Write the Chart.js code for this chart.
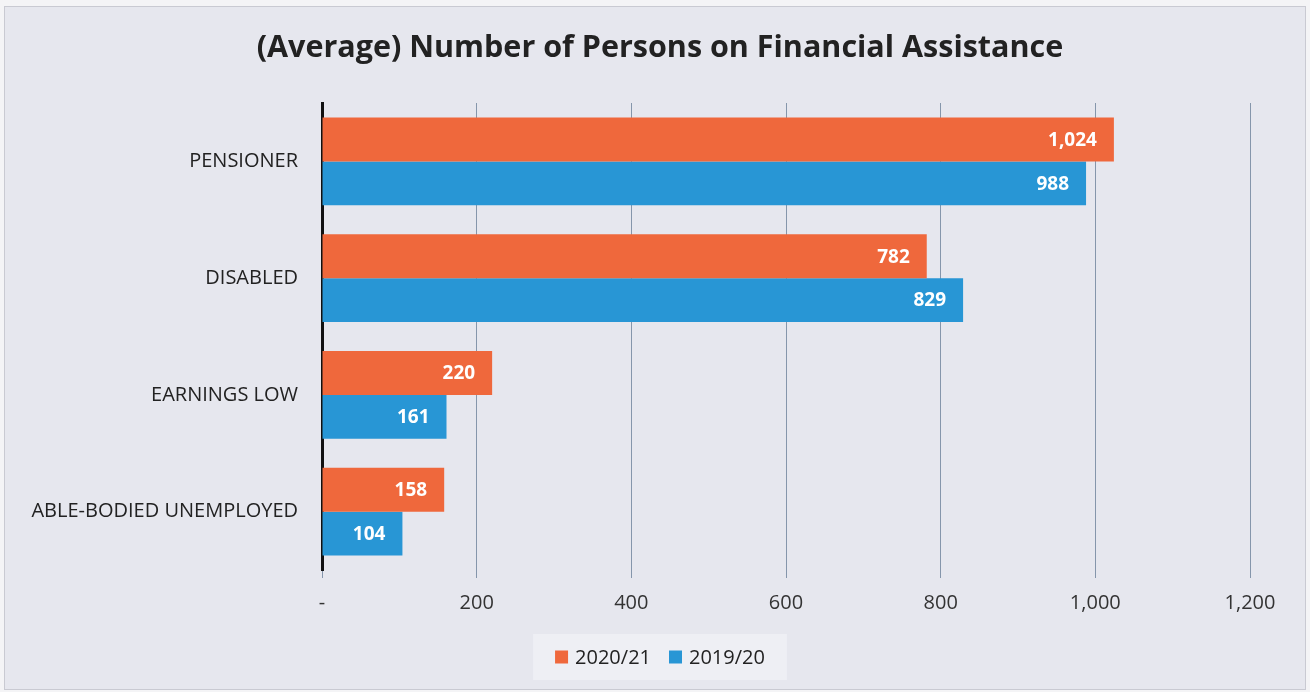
<!DOCTYPE html>
<html>
<head>
<meta charset="utf-8">
<script src="https://cdn.jsdelivr.net/npm/chart.js@4"></script>
<style>
  html, body { margin: 0; padding: 0; }
  body { background: #f4f4f6; width: 1310px; height: 692px; overflow: hidden; }
  .frame {
    position: absolute; left: 4px; top: 6px; width: 1302px; height: 684px;
    background: #e6e7ee; border: 1px solid #c9cad2; box-sizing: border-box;
  }
  canvas { position: absolute; left: 0; top: 0; }
</style>
</head>
<body>
<div class="frame"></div>
<canvas id="miGrafico" width="1310" height="692"></canvas>
<script>
const categorias = ['PENSIONER', 'DISABLED', 'EARNINGS LOW', 'ABLE-BODIED UNEMPLOYED'];
const serie2021 = [1024, 782, 220, 158];
const serie1920 = [988, 829, 161, 104];
const ticksX = [0, 200, 400, 600, 800, 1000, 1200];

const titulo = '(Average) Number of Persons on Financial Assistance';
const fuente = "'Open Sans', 'Noto Sans', sans-serif";
const centroX = 660;

// Etiquetas de valor dentro de las barras
const etiquetas = {
    id: 'etiquetas',
    afterDatasetsDraw(chart) {
        const ctx = chart.ctx;
        ctx.save();
        ctx.font = "bold 19px " + fuente;
        ctx.fillStyle = '#ffffff';
        ctx.textAlign = 'right';
        ctx.textBaseline = 'middle';
        chart.data.datasets.forEach((ds, i) => {
            chart.getDatasetMeta(i).data.forEach((bar, j) => {
                ctx.fillText(ds.data[j].toLocaleString('en-US'), bar.x - 17, bar.y + 1);
            });
        });
        ctx.restore();
    }
};

// Título y leyenda centrados sobre la página
const tituloLeyenda = {
    id: 'tituloLeyenda',
    afterDraw(chart) {
        const ctx = chart.ctx;
        ctx.save();
        ctx.fillStyle = '#222';
        ctx.font = "bold 30.5px " + fuente;
        ctx.textAlign = 'center';
        ctx.textBaseline = 'middle';
        ctx.fillText(titulo, centroX, 48);

        // leyenda
        ctx.font = "20px " + fuente;
        const items = chart.data.datasets.map(ds => ({
            texto: ds.label, color: ds.backgroundColor, w: ctx.measureText(ds.label).width
        }));
        const cuadro = 13, hueco = 7, sep = 18;
        let total = 0;
        items.forEach((it, k) => { total += cuadro + hueco + it.w + (k ? sep : 0); });
        const y = 657;
        ctx.fillStyle = '#eeeff4';
        ctx.fillRect(centroX - total / 2 - 22, y - 23, total + 44, 46);
        let x = centroX - total / 2;
        ctx.textAlign = 'left';
        items.forEach(it => {
            ctx.fillStyle = it.color;
            ctx.fillRect(x, y - cuadro / 2, cuadro, cuadro);
            ctx.fillStyle = '#222';
            ctx.fillText(it.texto, x + cuadro + hueco, y + 1);
            x += cuadro + hueco + it.w + sep;
        });
        ctx.restore();
    }
};

new Chart(document.getElementById('miGrafico'), {
    type: 'bar',
    data: {
        labels: categorias,
        datasets: [{
            label: '2020/21',
            data: serie2021,
            backgroundColor: '#ef683c'
        }, {
            label: '2019/20',
            data: serie1920,
            backgroundColor: '#2896d5'
        }]
    },
    options: {
        indexAxis: 'y',
        responsive: false,
        animation: false,
        layout: { padding: { left: 0, right: 60, top: 103, bottom: 72 } },
        datasets: {
            bar: { categoryPercentage: 0.75, barPercentage: 1.0 }
        },
        scales: {
            x: {
                min: 0,
                max: 1200,
                afterBuildTicks(scale) {
                    scale.ticks = ticksX.map(v => ({ value: v }));
                },
                afterFit(scale) { scale.height = 50; },
                ticks: {
                    callback: v => v === 0 ? '-' : v.toLocaleString('en-US'),
                    color: '#333',
                    font: { family: fuente, size: 20 },
                    padding: 13
                },
                grid: {
                    color: '#8596ab',
                    lineWidth: 1,
                    drawTicks: true,
                    tickLength: 8
                },
                border: { display: false }
            },
            y: {
                afterFit(scale) { scale.width = 322; },
                ticks: {
                    color: '#222',
                    font: { family: fuente, size: 20 },
                    padding: 16
                },
                grid: { display: false },
                border: { color: '#111', width: 3 }
            }
        },
        plugins: {
            title: { display: false },
            legend: { display: false },
            tooltip: { enabled: false }
        }
    },
    plugins: [etiquetas, tituloLeyenda]
});
</script>
</body>
</html>
